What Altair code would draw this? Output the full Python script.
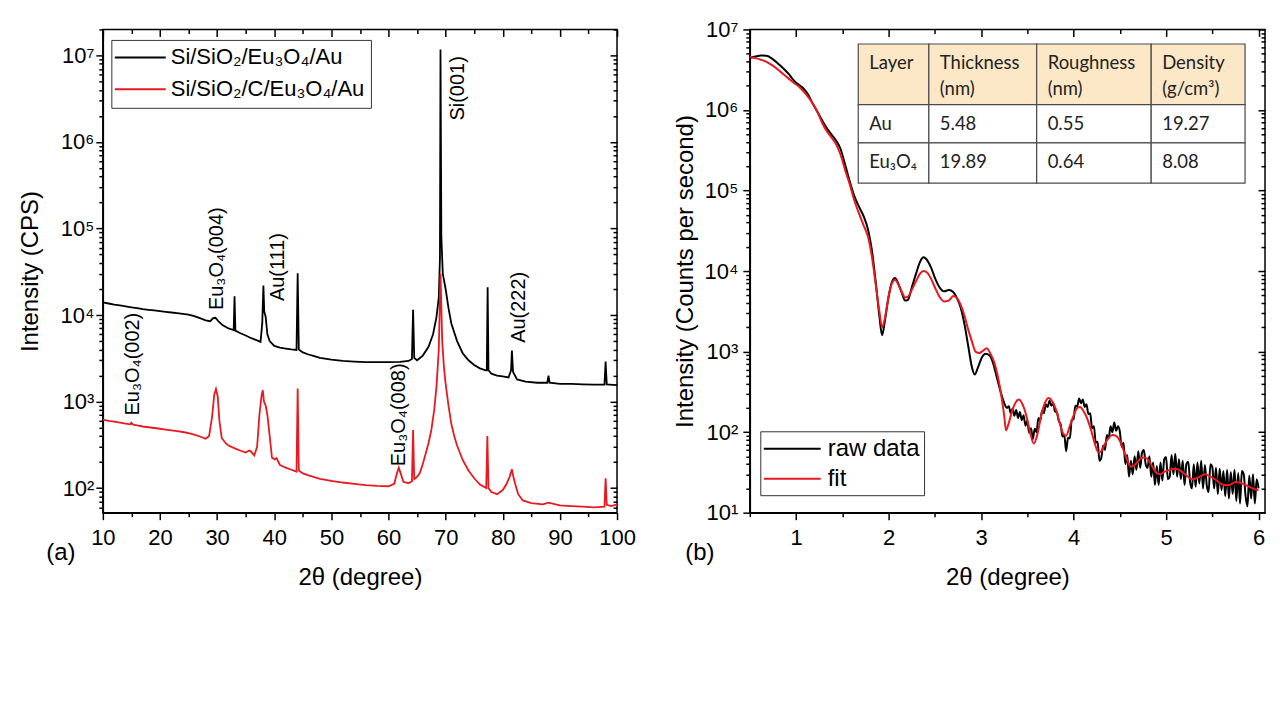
import altair as alt
import pandas as pd

FONT = "Liberation Sans"
TFONT = "Lato"
RED = "#e8191f"

# ---------------- Panel (a): XRD ----------------
xrd_names = ["Si/SiO₂/Eu₃O₄/Au", "Si/SiO₂/C/Eu₃O₄/Au"]

xrd1_x = [10, 11, 12, 13, 14, 15, 16, 17, 18, 19, 20, 21, 22, 23, 24, 25, 26, 27, 28, 28.8, 29.3, 29.7,
          30.2, 31, 32, 32.9, 33.05, 33.2, 34, 35, 36, 37, 37.6, 37.9, 38.1, 38.25, 38.5, 38.8, 39.2,
          40, 41, 42, 43, 43.9, 44.1, 44.3, 45, 46, 47, 48, 50, 52, 54, 56, 58, 60, 62, 63.5, 64.1,
          64.3, 64.5, 65, 66, 67, 67.8, 68.4, 68.8, 69.0, 69.1, 69.25, 69.5, 70.0, 70.5, 71, 72, 73,
          74, 75, 76, 77, 77.2, 77.35, 77.5, 78, 79, 80, 81, 81.45, 81.6, 81.8, 82.5, 84, 86, 87.8,
          88, 88.2, 90, 92, 94, 96, 97.8, 98.0, 98.2, 100]
xrd1_y = [14000, 13600, 13200, 12900, 12600, 12300, 12000, 11700, 11500, 11300, 11100, 10900, 10700,
          10500, 10300, 10100, 9700, 9200, 8700, 8500, 9200, 9300,
          8500, 7600, 7000, 6700, 16500, 6600, 6200, 5800, 5400, 5100, 4900, 8000, 22000, 11000, 9500,
          6000, 5000,
          4400, 4200, 4100, 4000, 3950, 30500, 4000, 3700, 3500, 3350, 3200, 3050, 2950, 2900, 2850,
          2850, 2850, 2880, 2950, 3100,
          11500, 3200, 3000, 3400, 4300, 6000, 9500, 16000, 45000, 11700000, 80000, 30000, 20000,
          12000, 8000, 5000, 3600,
          3000, 2650, 2420, 2300, 2300, 21000, 2300, 2100, 2000, 1950, 1900, 2300, 3900, 2200, 1800,
          1700, 1650, 1650,
          2000, 1650, 1600, 1600, 1580, 1570, 1570, 2900, 1580, 1550]

xrd2_x = [10, 11, 12, 13, 14, 14.8, 15.0, 15.3, 16, 17, 18, 19, 20, 21, 22, 23, 24, 25, 26, 27, 28,
          28.6, 29.1, 29.5, 29.8, 30.1, 30.4, 30.8, 31.5, 32, 33, 34, 35, 35.6, 35.9, 36.5, 37.0, 37.4,
          37.8, 38.0, 38.2, 38.5, 38.8, 39.2, 39.6, 40.1, 40.4, 41, 42, 43, 43.9, 44.1, 44.3, 45, 46,
          47, 48, 50, 52, 54, 56, 58, 60, 61.0, 61.5, 61.8, 62.1, 62.6, 63.5, 64.1, 64.3, 64.5, 65,
          65.5, 66, 66.5, 67, 67.5, 68, 68.4, 68.8, 69.1, 69.4, 69.7, 70, 70.5, 71, 71.5, 72, 73, 74,
          75, 76, 77.1, 77.3, 77.5, 78, 79, 80, 80.6, 81.2, 81.6, 81.8, 82.2, 82.7, 83.5, 85, 87, 88,
          90, 92, 94, 96, 97.8, 98.0, 98.2, 99, 100]
xrd2_y = [620, 600, 585, 570, 555, 545, 570, 540, 530, 515, 505, 495, 485, 475, 465, 455, 445, 432,
          415, 395, 372,
          400, 650, 1200, 1400, 1150, 600, 380, 330, 310, 290, 272, 258, 272, 266, 238, 300, 700,
          1200, 1350, 1000, 900, 700, 400, 225, 215, 222, 185, 172, 163, 155, 1420, 160, 148, 140,
          134, 128, 121, 116, 112, 108, 106, 105, 112, 150, 172, 150, 118, 114, 120, 470, 127, 135,
          150, 190, 250, 330, 470, 800, 1500, 4000, 30000, 5000, 2500, 1600, 900, 550, 400, 310, 210,
          160,
          130, 110, 100, 400, 100, 90, 85, 95, 110, 135, 165, 140, 110, 85, 72, 67, 65, 68,
          63, 62, 61, 60, 61, 130, 64, 62, 65]

peak_labels = ["Eu₃O₄(002)", "Eu₃O₄(004)", "Au(111)", "Si(001)", "Au(222)", "Eu₃O₄(008)"]
peak_x = [15.2, 30.0, 40.7, 72.2, 82.9, 61.8]
peak_y = [690, 11400, 14500, 1770000, 4770, 179]

# ---------------- Panel (b): XRR ----------------
xrr_names = ["raw data", "fit"]

raw_x = [0.50, 0.56, 0.62, 0.68, 0.74, 0.80, 0.86, 0.92, 0.98, 1.03, 1.08, 1.13, 1.18, 1.23, 1.28,
         1.33, 1.38, 1.43, 1.48, 1.53, 1.58, 1.63, 1.68, 1.73, 1.78, 1.82, 1.86, 1.90, 1.93, 1.96,
         2.00, 2.04, 2.07, 2.10, 2.14, 2.18, 2.21, 2.25, 2.30, 2.34, 2.38, 2.42, 2.46, 2.50, 2.55,
         2.60, 2.65, 2.69, 2.74, 2.78, 2.82, 2.86, 2.90, 2.93, 2.97, 3.01, 3.05, 3.09, 3.13, 3.17,
         3.21, 3.25, 3.28]
raw_y = [4.4e6, 4.6e6, 4.75e6, 4.7e6, 4.35e6, 3.8e6, 3.3e6, 2.8e6, 2.3e6, 2.05e6, 1.85e6, 1.55e6,
         1.2e6, 9.5e5, 7.5e5, 6.0e5, 5.0e5, 4.2e5, 3.3e5, 2.1e5, 1.3e5, 8.5e4, 6.3e4, 4.8e4, 3.2e4,
         1.8e4, 7.5e3, 2.8e3, 1.6e3, 2.4e3, 4.8e3, 7.5e3, 8.2e3, 7.2e3, 5.5e3, 4.3e3, 4.4e3, 6.2e3,
         9.5e3, 1.3e4, 1.48e4, 1.35e4, 1.1e4, 8.3e3, 6.3e3, 5.6e3, 5.8e3, 5.6e3, 4.6e3, 3.5e3,
         2.2e3, 1.2e3, 650, 520, 650, 850, 940, 900, 720, 480, 320, 230, 200]
# noisy part of the measurement, 0.02 degree steps from 3.30 to 6.00
raw_noisy_y = [210, 172, 195, 160, 188, 150, 178, 140, 162, 120,
               138, 98, 112, 82, 110, 100, 150, 140, 185, 172,
               222, 205, 245, 212, 230, 180, 176, 138, 125, 88,
               92, 58, 85, 84, 140, 146, 212, 208, 262, 228,
               255, 205, 222, 168, 172, 112, 118, 74, 76, 44,
               48, 68, 60, 92, 84, 118, 100, 132, 104, 118,
               102, 66, 74, 40, 52, 28, 44, 30, 50, 34,
               58, 36, 55, 60, 40, 36, 50, 28, 42, 22,
               38, 22, 42, 25, 46, 49, 26, 28, 52, 30,
               54, 28, 46, 26, 44, 22, 40, 43, 24, 20,
               40, 21, 42, 23, 44, 20, 39, 22, 18, 40,
               37, 20, 36, 17, 35, 19, 33, 16, 34, 15,
               32, 17, 34, 14, 31, 13, 33, 30, 16, 12,
               29, 15, 30, 13, 26, 20]
raw_noisy_x = [round(3.30 + 0.02 * i, 2) for i in range(len(raw_noisy_y))]

fit_x = [0.50, 0.56, 0.62, 0.68, 0.74, 0.80, 0.86, 0.92, 0.98, 1.03, 1.08, 1.13, 1.18, 1.23, 1.28,
         1.33, 1.38, 1.43, 1.48, 1.53, 1.58, 1.63, 1.68, 1.73, 1.78, 1.82, 1.86, 1.90, 1.93, 1.96,
         2.00, 2.04, 2.07, 2.10, 2.14, 2.18, 2.21, 2.25, 2.30, 2.34, 2.38, 2.42, 2.46, 2.50, 2.55,
         2.60, 2.65, 2.70, 2.74, 2.78, 2.82, 2.86, 2.90, 2.94, 2.98, 3.02, 3.06, 3.10, 3.14, 3.18,
         3.22, 3.25, 3.27, 3.30, 3.34, 3.38, 3.41, 3.45, 3.49, 3.53, 3.57, 3.61, 3.65, 3.69, 3.73,
         3.77, 3.81, 3.85, 3.89, 3.92, 3.96, 4.00, 4.04, 4.07, 4.11, 4.15, 4.19, 4.23, 4.27, 4.30,
         4.34, 4.38, 4.42, 4.46, 4.50, 4.54, 4.58, 4.62, 4.66, 4.70, 4.74, 4.78, 4.82, 4.86, 4.90,
         4.94, 4.98, 5.04, 5.10, 5.16, 5.22, 5.28, 5.34, 5.42, 5.48, 5.55, 5.62, 5.68, 5.75, 5.82,
         5.90, 5.96, 6.00]
fit_y = [4.5e6, 4.4e6, 4.2e6, 3.95e6, 3.6e6, 3.2e6, 2.8e6, 2.45e6, 2.15e6, 1.95e6, 1.7e6, 1.45e6,
         1.2e6, 9.5e5, 7.0e5, 5.5e5, 4.6e5, 3.8e5, 2.8e5, 1.8e5, 1.2e5, 7.5e4, 5.2e4, 3.7e4, 2.6e4,
         1.5e4, 7e3, 3.2e3, 2.0e3, 2.6e3, 4.8e3, 7.2e3, 7.8e3, 7.0e3, 5.6e3, 4.7e3, 4.8e3, 5.8e3,
         7.6e3, 9.3e3, 1.0e4, 9.5e3, 8e3, 6.3e3, 4.8e3, 4.2e3, 4.3e3, 4.9e3, 4.6e3, 3.8e3, 2.8e3,
         1.9e3, 1.35e3, 1.0e3, 960, 1020, 1100, 950, 750, 500, 280, 160, 105, 130, 190, 240, 255,
         220, 160, 100, 72, 95, 160, 230, 265, 240, 190, 130, 95, 90, 120, 160, 200, 205, 180, 145,
         105, 72, 56, 58, 72, 85, 92, 90, 78, 60, 45, 37, 39, 44, 48, 48, 43, 36, 31, 30, 32, 34, 35,
         33, 29, 26, 27, 30, 28, 25, 22, 22, 24, 23, 21, 19.5, 19]

table_cols = ["Layer", "Thickness", "Roughness", "Density"]
table_units = ["", "(nm)", "(nm)", "(g/cm³)"]
table_rows = [["Au", "5.48", "0.55", "19.27"],
              ["Eu₃O₄", "19.89", "0.64", "8.08"]]

# ---------------- helpers ----------------
SUP = ("'10' + substring('⁰¹²³⁴⁵⁶⁷⁸⁹', round(log(datum.value)/LN10), "
       "round(log(datum.value)/LN10) + 1)")


def minor_log(lo, hi):
    out = []
    for k in range(0, 9):
        for m in range(2, 10):
            v = m * 10 ** k
            if lo <= v <= hi:
                out.append(v)
    return out


def axis_layers(carrier, xsc, ysc, xmaj, xmin, ymaj, ymin, ytitle, ylabpad, ytitpad):
    base = alt.Chart(carrier).mark_point(opacity=0)
    main = base.encode(
        x=alt.X("x:Q", scale=xsc, axis=alt.Axis(orient="bottom", values=xmaj, tickSize=7,
                                                labelPadding=8, labelFlush=False,
                                                title="2θ (degree)", titlePadding=17)),
        y=alt.Y("y:Q", scale=ysc, axis=alt.Axis(orient="left", values=ymaj, tickSize=7,
                                                labelExpr=SUP, labelPadding=ylabpad,
                                                title=ytitle, titlePadding=ytitpad)))
    minor = base.encode(
        x=alt.X("x:Q", scale=xsc, axis=alt.Axis(orient="bottom", values=xmin, tickSize=4,
                                                labels=False, domain=False, title=None)),
        y=alt.Y("y:Q", scale=ysc, axis=alt.Axis(orient="left", values=ymin, tickSize=4,
                                                labels=False, domain=False, title=None)))
    top_major = base.encode(
        x=alt.X("x:Q", scale=xsc, axis=alt.Axis(orient="top", values=xmaj, tickSize=7, offset=-7,
                                                labels=False, domain=False, title=None)),
        y=alt.Y("y:Q", scale=ysc, axis=alt.Axis(orient="right", values=ymaj, tickSize=7, offset=-7,
                                                labels=False, domain=False, title=None)))
    top_minor = base.encode(
        x=alt.X("x:Q", scale=xsc, axis=alt.Axis(orient="top", values=xmin, tickSize=4, offset=-4,
                                                labels=False, domain=False, title=None)),
        y=alt.Y("y:Q", scale=ysc, axis=alt.Axis(orient="right", values=ymin, tickSize=4, offset=-4,
                                                labels=False, domain=False, title=None)))
    return [main, minor, top_major, top_minor]


def legend_layers(names, cscale, box, line_x, rows_y, text_x, fsize):
    bx0, bx1, by0, by1 = box
    one = pd.DataFrame({"a": [0]})
    rect = alt.Chart(one).mark_rect(fill="white", stroke="#333333", strokeWidth=1).encode(
        x=alt.value(bx0), x2=alt.value(bx1), y=alt.value(by0), y2=alt.value(by1))
    leg = pd.DataFrame({"series": names, "ly": rows_y})
    lines = alt.Chart(leg).mark_rule(strokeWidth=2).encode(
        x=alt.value(line_x[0]), x2=alt.value(line_x[1]),
        y=alt.Y("ly:Q", scale=None),
        color=alt.Color("series:N", scale=cscale, legend=None))
    texts = alt.Chart(leg).mark_text(align="left", baseline="middle", font=FONT,
                                     fontSize=fsize, color="black").encode(
        x=alt.value(text_x), y=alt.Y("ly:Q", scale=None), text="series:N")
    return [rect, lines, texts]


def panel_label(txt, px, py):
    return alt.Chart(pd.DataFrame({"a": [0]})).mark_text(
        font=FONT, fontSize=24, color="black", align="center", baseline="middle").encode(
        x=alt.value(px), y=alt.value(py), text=alt.value(txt))


# ---------------- Panel (a) ----------------
xa = alt.Scale(domain=[10, 100], nice=False, zero=False)
ya = alt.Scale(type="log", domain=[52, 2.0e7], nice=False)
ca = alt.Scale(domain=xrd_names, range=["black", RED])

df_a = pd.concat([
    pd.DataFrame({"x": xrd1_x, "y": xrd1_y, "series": xrd_names[0], "o": 0}),
    pd.DataFrame({"x": xrd2_x, "y": xrd2_y, "series": xrd_names[1], "o": 1}),
], ignore_index=True)

axes_a = axis_layers(df_a.iloc[[0]], xa, ya, list(range(10, 101, 10)), list(range(15, 100, 10)),
                     [10 ** k for k in range(2, 8)], minor_log(52, 2.0e7),
                     "Intensity (CPS)", 2, 18)

lines_a = alt.Chart(df_a).mark_line(strokeWidth=1.8, clip=True).encode(
    x=alt.X("x:Q", scale=xa, axis=None),
    y=alt.Y("y:Q", scale=ya, axis=None),
    color=alt.Color("series:N", scale=ca, legend=None),
    order="o:Q")

lab_df = pd.DataFrame({"x": peak_x, "y": peak_y, "t": peak_labels})
labels_a = alt.Chart(lab_df).mark_text(angle=270, align="left", baseline="middle", font=FONT,
                                       fontSize=20, color="black").encode(
    x=alt.X("x:Q", scale=xa, axis=None), y=alt.Y("y:Q", scale=ya, axis=None), text="t:N")

legend_a = legend_layers(xrd_names, ca, (9, 269, 11, 79), (12, 63), [28, 60], 68, 22)

panel_a = alt.layer(*axes_a, lines_a, labels_a, *legend_a, panel_label("(a)", -42, 524)).resolve_axis(
    x="independent", y="independent").properties(width=515, height=484)

# ---------------- Panel (b) ----------------
xb = alt.Scale(domain=[0.5, 6.07], nice=False, zero=False)
yb = alt.Scale(type="log", domain=[10, 1.0e7], nice=False)
cb = alt.Scale(domain=xrr_names, range=["black", RED])

df_b = pd.concat([
    pd.DataFrame({"x": raw_x + raw_noisy_x, "y": raw_y + raw_noisy_y, "series": xrr_names[0], "o": 0}),
    pd.DataFrame({"x": fit_x, "y": fit_y, "series": xrr_names[1], "o": 1}),
], ignore_index=True)

axes_b = axis_layers(df_b.iloc[[0]], xb, yb, [1, 2, 3, 4, 5, 6], [0.5, 1.5, 2.5, 3.5, 4.5, 5.5],
                     [10 ** k for k in range(1, 8)], minor_log(10, 1.0e7),
                     "Intensity (Counts per second)", 5, 6)

lines_b = alt.Chart(df_b).mark_line(strokeWidth=2, clip=True, interpolate="monotone").encode(
    x=alt.X("x:Q", scale=xb, axis=None),
    y=alt.Y("y:Q", scale=yb, axis=None),
    color=alt.Color("series:N", scale=cb, legend=None),
    detail="series:N",
    order="x:Q")

# inset table (layout in pixels of the plot area)
col_edges = [108.6, 179.3, 287.3, 402.0, 496.0]
row_edges = [14.6, 75.3, 113.6, 154.0]
cells = []
for r in range(3):
    for c in range(4):
        cells.append({"x0": col_edges[c], "x1": col_edges[c + 1], "y0": row_edges[r],
                      "y1": row_edges[r + 1], "f": "#fce8c6" if r == 0 else "#ffffff"})
cells_df = pd.DataFrame(cells)
texts = []
for c in range(4):
    texts.append({"tx": col_edges[c] + 11, "ty": 33.6, "t": table_cols[c]})
    if table_units[c]:
        texts.append({"tx": col_edges[c] + 11, "ty": 59.6, "t": table_units[c]})
for r, row in enumerate(table_rows):
    for c in range(4):
        texts.append({"tx": col_edges[c] + 11, "ty": [94.6, 133.0][r], "t": row[c]})
texts_df = pd.DataFrame(texts)

table_rect = alt.Chart(cells_df).mark_rect(stroke="#4a4a4a", strokeWidth=1.2).encode(
    x=alt.X("x0:Q", scale=None), x2="x1:Q", y=alt.Y("y0:Q", scale=None), y2="y1:Q",
    fill=alt.Fill("f:N", scale=None))
table_text = alt.Chart(texts_df).mark_text(align="left", baseline="middle", font=TFONT,
                                           fontSize=18.5, color="#222222").encode(
    x=alt.X("tx:Q", scale=None), y=alt.Y("ty:Q", scale=None), text="t:N")

legend_b = legend_layers(xrr_names, cb, (11, 175, 403, 467), (14, 71), [420, 450], 78, 24)

panel_b = alt.layer(*axes_b, lines_b, table_rect, table_text, *legend_b,
                    panel_label("(b)", -50, 524)).resolve_axis(
    x="independent", y="independent").properties(width=516, height=484)

chart = alt.hconcat(panel_a, panel_b, spacing=133, bounds="flush").configure_view(
    stroke="black", strokeWidth=1.5
).configure_axis(
    labelFont=FONT, titleFont=FONT, labelColor="black", titleColor="black",
    domainColor="black", tickColor="black", domainWidth=1.5, tickWidth=1.5, grid=False,
    titleFontWeight="normal", labelFontSize=22, titleFontSize=24
).properties(padding={"left": 9, "top": 9, "right": 5, "bottom": 5}, background="white")

chart.save("out.html", embed_options={"renderer": "svg", "actions": False})
